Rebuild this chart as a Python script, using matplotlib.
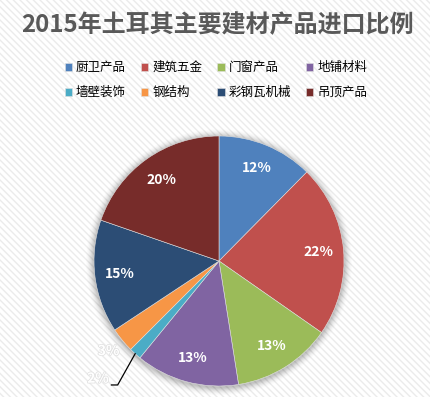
import matplotlib
matplotlib.use("Agg")
import numpy as np
import matplotlib.pyplot as plt
from matplotlib.patches import Rectangle, Circle
import matplotlib.patheffects as pe

plt.rcParams['font.family'] = ['Noto Sans CJK SC', 'DejaVu Sans']
plt.rcParams['hatch.linewidth'] = 1.0

title = "2015年土耳其主要建材产品进口比例"
categories = ["厨卫产品", "建筑五金", "门窗产品", "地铺材料",
              "墙壁装饰", "钢结构", "彩钢瓦机械", "吊顶产品"]
shares = [12.4, 22.3, 12.8, 13.4, 1.6, 3.2, 14.6, 19.7]
colors = ["#4F81BD", "#C0504D", "#9BBB59", "#8064A2",
          "#4BACC6", "#F79646", "#2C4D75", "#772C2A"]

W, H = 430, 397
fig = plt.figure(figsize=(W / 100, H / 100), dpi=100)
fig.patch.set_facecolor("white")

# striped background
bg = Rectangle((0, 0), 1, 1, transform=fig.transFigure, facecolor="white",
               edgecolor="#ebebeb", hatch="\\\\\\\\\\", linewidth=0, zorder=-10)
fig.patches.append(bg)

# pie axes: 1 unit = 125 px, centre at (219, 261) px from top-left
cx, cy, R = 219, 261, 125
ax = fig.add_axes([0, 0, 1, 1])
ax.patch.set_alpha(0)

# soft shadow
for i, a in enumerate(np.linspace(0.05, 0.012, 8)):
    ax.add_patch(Circle((0.0, -0.01), 1.0 + 0.008 * (i + 1), color="black",
                        alpha=a, lw=0, zorder=0))

wedges, _ = ax.pie(shares, colors=colors, startangle=90, counterclock=False,
                   radius=1, wedgeprops=dict(linewidth=0.4, edgecolor="#e0e0e0"))
for w in wedges:
    w.set_zorder(2)

for w, v in zip(wedges, shares):
    mid = np.deg2rad((w.theta1 + w.theta2) / 2)
    lbl = "%.0f%%" % v
    if v > 5:
        ax.text(0.8 * np.cos(mid), 0.8 * np.sin(mid), lbl, ha="center", va="center",
                color="white", fontsize=10, fontweight="bold", zorder=5)
    elif v > 2:
        ax.text(1.14 * np.cos(mid), 1.14 * np.sin(mid), lbl, ha="center", va="center",
                color="white", fontsize=10, fontweight="bold", zorder=5,
                path_effects=[pe.withStroke(linewidth=1.0, foreground="#e0e0e0")])
    else:
        x0, y0 = np.cos(mid), np.sin(mid)
        y1 = y0 - 0.25
        x1 = x0 - 0.14
        ax.plot([x0, x1, x1 - 0.05], [y0, y1, y1], color="black", lw=0.9, zorder=4)
        ax.text(x1 - 0.07, y1 + 0.05, lbl, ha="right", va="center",
                color="white", fontsize=10, fontweight="bold", zorder=5,
                path_effects=[pe.withStroke(linewidth=1.0, foreground="#e0e0e0")])

ax.set_aspect("auto")
ax.set_xlim(-cx / R, (W - cx) / R)
ax.set_ylim(-(H - cy) / R, cy / R)
ax.axis("off")

fig.text(0.505, 1 - 25 / H, title, ha="center", va="center", fontsize=17.3,
         fontweight="bold", color="#595959")

# legend filled row by row (matplotlib fills columns first)
order = [0, 4, 1, 5, 2, 6, 3, 7]
leg = fig.legend([wedges[i] for i in order], [categories[i] for i in order],
                 ncol=4, loc="center", bbox_to_anchor=(0.502, 1 - 80 / H),
                 frameon=False, fontsize=9,
                 handlelength=0.6, handleheight=0.6, handletextpad=0.3,
                 columnspacing=1.2, labelspacing=0.95)
for t in leg.get_texts():
    t.set_color("black")

fig.savefig("out.png", dpi=100)
